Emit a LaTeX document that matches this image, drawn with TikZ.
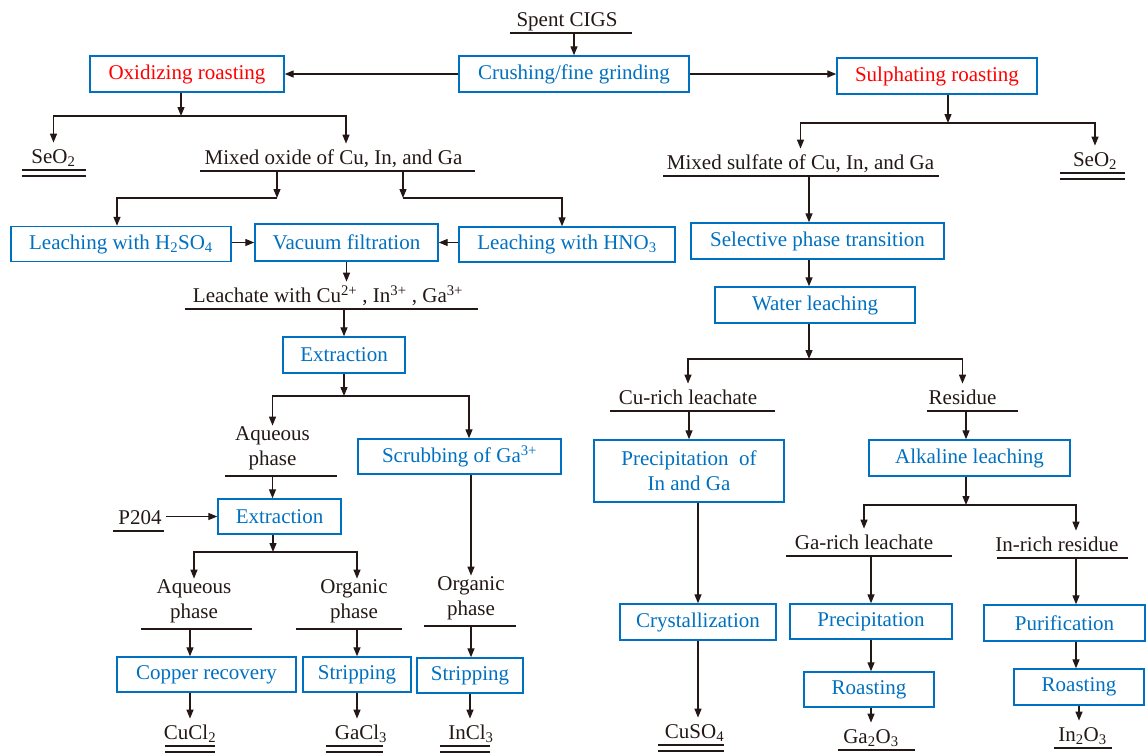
\documentclass[tikz,border=0pt]{standalone}
\usepackage{fontspec}
\setmainfont{Liberation Serif}
\usetikzlibrary{arrows.meta}
\definecolor{procblue}{RGB}{0,112,192}
\definecolor{roastred}{RGB}{255,0,0}
\definecolor{ink}{RGB}{35,24,21}
\newcommand{\diafont}{\fontsize{21}{25}\selectfont}
\newcommand{\twoline}[2]{\begin{tabular}[b]{@{}c@{}}#1\\#2\end{tabular}}
\tikzset{
  procbox/.style={
    draw=procblue,
    text=procblue,
    line width=1.4pt,
    align=center,
    font=\diafont,
    inner sep=0pt,
    minimum height=36pt
  },
  roastbox/.style={
    procbox,
    text=roastred
  },
  rule/.style={draw=ink,line width=1.3pt},
  prod/.style 2 args={
    text=ink,
    font=\diafont,
    inner xsep=0pt,
    inner ysep=6pt,
    text height=15pt,
    text depth=0pt,
    anchor=south,
    append after command={([xshift=-#1pt]\tikzlastnode.south) edge[rule] ([xshift=#2pt]\tikzlastnode.south)}
  },
  product/.style 2 args={
    prod={#1}{#2},
    append after command={([xshift=-#1pt,yshift=-6pt]\tikzlastnode.south) edge[rule] ([xshift=#2pt,yshift=-6pt]\tikzlastnode.south)}
  },
  phase/.style={text height=30pt,inner ysep=10pt},
  flow/.style={-{Triangle[length=9pt,width=7pt]},draw=ink,line width=1.3pt}
}
\begin{document}
\begin{tikzpicture}[x=1pt,y=-1pt]
\useasboundingbox (0,0) rectangle (1146,753);
\node[prod={57}{65}] (spent) at (567,33) {Spent CIGS};
\node[procbox,minimum width=230pt] (crush) at (574,74) {Crushing/fine grinding};
\node[roastbox,minimum width=194pt] (oxid) at (187,74) {Oxidizing roasting};
\node[roastbox,minimum width=200pt] (sulph) at (937,76) {Sulphating roasting};
\node[product={32}{32}] (seoa) at (53.5,170) {SeO\textsubscript{2}};
\node[prod={133.5}{141.5}] (mixox) at (333.5,171) {Mixed oxide of Cu, In, and Ga};
\node[procbox,minimum width=220pt,minimum height=35pt] (lhso) at (121,244) {Leaching with H\textsubscript{2}SO\textsubscript{4}};
\node[procbox,minimum width=183pt,minimum height=37pt] (vacf) at (346.5,242.5) {Vacuum filtration};
\node[procbox,minimum width=216pt,minimum height=35pt] (lhno) at (567,244.5) {Leaching with HNO\textsubscript{3}};
\node[prod={143}{150}] (leach) at (328,309) {Leachate with Cu\textsuperscript{2+} , In\textsuperscript{3+} , Ga\textsuperscript{3+}};
\node[procbox,minimum width=122pt] (extra) at (344,355) {Extraction};
\node[prod={47.5}{64.5},phase] (aqa) at (272.5,476) {\twoline{Aqueous}{phase}};
\node[procbox,minimum width=203pt,minimum height=35pt] (scrub) at (459.5,456.5) {Scrubbing of Ga\textsuperscript{3+}};
\node[prod={27}{24}] (pdrug) at (140,531) {P204};
\node[procbox,minimum width=123pt,minimum height=35pt] (extrb) at (279.5,516.5) {Extraction};
\node[prod={53}{58},phase] (aqb) at (194,629) {\twoline{Aqueous}{phase}};
\node[prod={58}{48},phase] (orga) at (354,629) {\twoline{Organic}{phase}};
\node[prod={47}{45},phase] (orgb) at (471,626) {\twoline{Organic}{phase}};
\node[procbox,minimum width=179pt,minimum height=35pt] (curec) at (206.5,674.5) {Copper recovery};
\node[procbox,minimum width=108pt,minimum height=35pt] (stripa) at (357,674.5) {Stripping};
\node[procbox,minimum width=106pt,minimum height=35pt] (stripb) at (470,675.5) {Stripping};
\node[product={25}{25}] (cucl) at (190,746) {CuCl\textsubscript{2}};
\node[product={35}{22}] (gacl) at (361,746) {GaCl\textsubscript{3}};
\node[product={31}{19}] (incl) at (471,746) {InCl\textsubscript{3}};
\node[product={35}{30}] (seob) at (1095,173) {SeO\textsubscript{2}};
\node[prod={137.5}{138.5}] (msulf) at (800.5,176) {Mixed sulfate of Cu, In, and Ga};
\node[procbox,minimum width=253pt] (selph) at (817.5,241) {Selective phase transition};
\node[procbox,minimum width=200pt] (water) at (815,305) {Water leaching};
\node[prod={78}{87}] (curich) at (688,411) {Cu-rich leachate};
\node[prod={35.5}{55.5}] (resid) at (962.5,411) {Residue};
\node[procbox,minimum width=190pt,minimum height=62pt] (precig) at (689,471) {Precipitation\ \ of\\In and Ga};
\node[procbox,minimum width=201pt] (alkal) at (969.5,458) {Alkaline leaching};
\node[procbox,minimum width=156pt] (cryst) at (698,622) {Crystallization};
\node[product={36.5}{29.5}] (cuso) at (694.5,745) {CuSO\textsubscript{4}};
\node[prod={78}{88}] (garich) at (864,556) {Ga-rich leachate};
\node[prod={60}{71}] (inrich) at (1057,558) {In-rich residue};
\node[procbox,minimum width=162pt,minimum height=35pt] (precip) at (871,621.5) {Precipitation};
\node[procbox,minimum width=161pt] (purif) at (1064.5,623) {Purification};
\node[procbox,minimum width=130pt,minimum height=35pt] (roasta) at (869,689.5) {Roasting};
\node[procbox,minimum width=130pt] (roastb) at (1079,687) {Roasting};
\node[prod={33}{44}] (gaox) at (871,750) {Ga\textsubscript{2}O\textsubscript{3}};
\node[prod={28.5}{29.5}] (inox) at (1082.5,748) {In\textsubscript{2}O\textsubscript{3}};
\coordinate (oxbr) at (181,116);
\coordinate (oxR) at (346,116);
\coordinate (mxL) at (277,198);
\coordinate (mxR) at (403,198);
\coordinate (exbr) at (344,396);
\coordinate (e2br) at (273,552);
\coordinate (sbr) at (948,123);
\coordinate (wbr) at (809,359);
\coordinate (abr) at (966,505);
\coordinate (abrR) at (1076,505);
\draw[flow] (spent.south -| crush) -- (crush.north);
\draw[flow] (crush.west) -- (oxid.east);
\draw[flow] (crush.east) -- (crush.east -| sulph.west);
\draw[flow] (oxbr |- oxid.south) -- (oxbr);
\draw[flow] (oxbr) -| (seoa.north);
\draw[flow] (oxbr) -| (oxR |- mixox.north);
\draw[flow] (mxL |- mixox.south) -- (mxL);
\draw[flow] (mxR |- mixox.south) -- (mxR);
\draw[flow] (mxL) -| ([xshift=-4pt]lhso.north);
\draw[flow] (mxR) -| ([xshift=-5pt]lhno.north);
\draw[flow] (lhso.east |- vacf.west) -- (vacf.west);
\draw[flow] (lhno.west |- vacf.east) -- (vacf.east);
\draw[flow] (vacf.south) -- (vacf.south |- leach.north);
\draw[flow] (leach.south -| extra) -- (extra.north);
\draw[flow] (extra.south) -- (exbr);
\draw[flow] (exbr) -| (aqa.north);
\draw[flow] (exbr) -| ([xshift=9.5pt]scrub.north);
\draw[flow] (aqa.south) -- (aqa.south |- extrb.north);
\draw[flow,shorten <=4pt] (pdrug.east |- extrb.west) -- (extrb.west);
\draw[flow] (e2br |- extrb.south) -- (e2br);
\draw[flow] (e2br) -| (aqb.north);
\draw[flow] (e2br) -| ([xshift=3pt]orga.north);
\draw[flow] (scrub.south -| orgb) -- (orgb.north);
\draw[flow] (aqb.south -| cucl) -- (curec.north -| cucl);
\draw[flow] (orga.south -| stripa) -- (stripa.north);
\draw[flow] (orgb.south) -- (orgb.south |- stripb.north);
\draw[flow] (curec.south -| cucl) -- (cucl.north);
\draw[flow] (stripa.south) -- (stripa.south |- gacl.north);
\draw[flow] (stripb.south) -- (stripb.south |- incl.north);
\draw[flow] (sbr |- sulph.south) -- (sbr);
\draw[flow] (sbr) -| (msulf.north);
\draw[flow] (sbr) -| (seob.north);
\draw[flow] (wbr |- msulf.south) -- (wbr |- selph.north);
\draw[flow] (wbr |- selph.south) -- (wbr |- water.north);
\draw[flow] (wbr |- water.south) -- (wbr);
\draw[flow] (wbr) -| (curich.north);
\draw[flow] (wbr) -| (resid.north);
\draw[flow] (curich.south -| precig) -- (precig.north);
\draw[flow] (abr |- resid.south) -- (abr |- alkal.north);
\draw[flow] (precig.south -| cryst) -- (cryst.north);
\draw[flow] (cryst.south) -- (cryst.south |- cuso.north);
\draw[flow] (abr |- alkal.south) -- (abr);
\draw[flow] (abr) -| (garich.north);
\draw[flow] (abr) -| (abrR |- inrich.north);
\draw[flow] (garich.south -| precip) -- (precip.north);
\draw[flow] (abrR |- inrich.south) -- (abrR |- purif.north);
\draw[flow] (precip.south) -- (precip.south |- roasta.north);
\draw[flow] (abrR |- purif.south) -- (abrR |- roastb.north);
\draw[flow] (roasta.south -| gaox) -- (gaox.north);
\draw[flow] (roastb.south) -- (roastb.south |- inox.north);
\end{tikzpicture}
\end{document}
